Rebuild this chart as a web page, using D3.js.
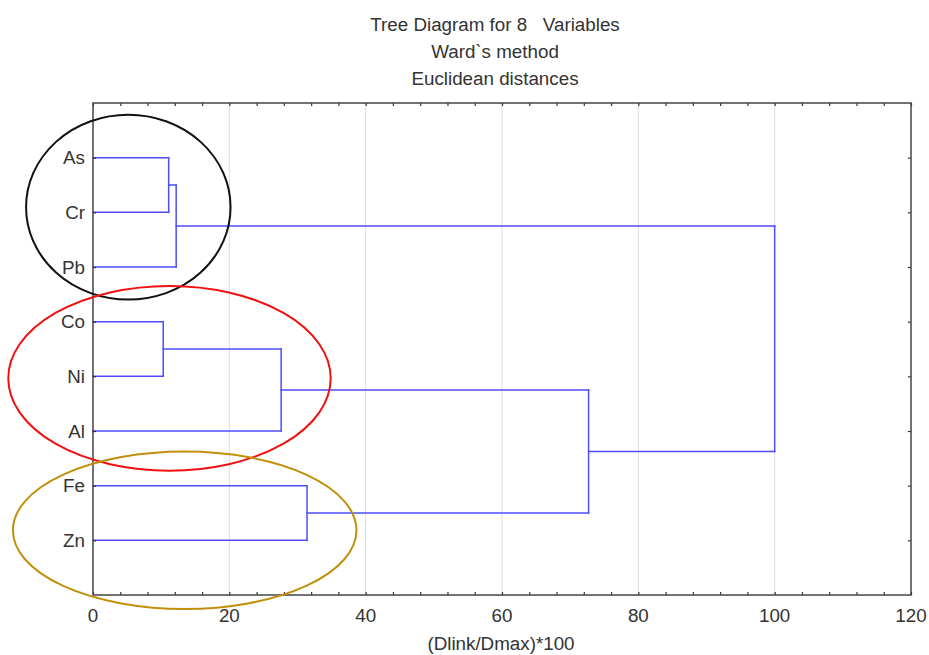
<!DOCTYPE html>
<html>
<head>
<meta charset="utf-8">
<script src="https://cdn.jsdelivr.net/npm/d3@7"></script>
<style>
  body { margin: 0; background: #fff; }
  text { font-family: "Liberation Sans", Arial, sans-serif; fill: #333; }
</style>
</head>
<body>
<svg id="chart" width="929" height="655"></svg>
<script>
// leaves, top to bottom
var leaves = ['As', 'Cr', 'Pb', 'Co', 'Ni', 'Al', 'Fe', 'Zn']
// linkage: [childA, childB, (Dlink/Dmax)*100]; new cluster ids start at 8
var mergeA = [0, 8, 3, 10, 6, 11, 9]
var mergeB = [1, 2, 4, 5, 7, 12, 13]
var mergeH = [11.1, 12.2, 10.3, 27.6, 31.4, 72.7, 100]
var xTicks = [0, 20, 40, 60, 80, 100, 120]
var titleLines = ['Tree Diagram for 8   Variables', 'Ward`s method', 'Euclidean distances']
// circled groups (data units: x value, row position)
var ringCx = [5.18, 11.22, 13.45]
var ringCy = [1.906, 5.036, 7.816]
var ringRx = [15.0, 23.65, 25.2]
var ringRy = [1.69, 1.69, 1.44]
var ringColor = ['#111111', '#f01010', '#c0900c']

var svg = d3.select('#chart')
var pLeft = 93, pRight = 911, pTop = 103, pBottom = 595
var lineColor = '#4d4dff'
var fontSize = '18.8px'

var xScale = d3.scaleLinear().domain([0, 120]).range([pLeft, pRight])
var yScale = d3.scaleLinear().domain([0, leaves.length + 1]).range([pTop, pBottom])

// gridlines
svg.append('g').selectAll('line')
	.data(xTicks.filter(d => d > 0 && d < 120))
	.enter().append('line')
	.attr('x1', d => xScale(d)).attr('x2', d => xScale(d))
	.attr('y1', pTop).attr('y2', pBottom)
	.style('stroke', '#dcdcdc').style('stroke-width', 1)

// node positions
var nodeX = leaves.map(() => 0)
var nodeY = leaves.map((d, i) => i + 1)
var segs = []
for (var i = 0; i < mergeH.length; i++) {
	var a = mergeA[i], b = mergeB[i], h = mergeH[i]
	segs.push([nodeX[a], nodeY[a], h, nodeY[a]])
	segs.push([nodeX[b], nodeY[b], h, nodeY[b]])
	segs.push([h, nodeY[a], h, nodeY[b]])
	nodeX.push(h)
	nodeY.push((nodeY[a] + nodeY[b]) / 2)
}

svg.append('g').attr('class', 'tree').selectAll('line')
	.data(segs)
	.enter().append('line')
	.attr('x1', d => xScale(d[0])).attr('y1', d => yScale(d[1]))
	.attr('x2', d => xScale(d[2])).attr('y2', d => yScale(d[3]))
	.style('stroke', lineColor).style('stroke-width', 1.5)
	.style('stroke-linecap', 'square')

// axes (inward ticks)
var minor = d3.range(0, 121, 4)
svg.append('g').attr('transform', 'translate(0,' + pBottom + ')')
	.call(d3.axisBottom(xScale).tickValues(minor).tickSizeInner(-3).tickSizeOuter(0).tickFormat(''))
svg.append('g').attr('transform', 'translate(0,' + pTop + ')')
	.call(d3.axisTop(xScale).tickValues(minor).tickSizeInner(-3).tickSizeOuter(0).tickFormat(''))
var rows = leaves.map((d, i) => i + 1)
svg.append('g').attr('transform', 'translate(' + pRight + ',0)')
	.call(d3.axisRight(yScale).tickValues(rows).tickSizeInner(-3).tickSizeOuter(0).tickFormat(''))
svg.append('g').attr('transform', 'translate(' + pLeft + ',0)')
	.call(d3.axisLeft(yScale).tickValues(rows).tickSizeInner(-3).tickSizeOuter(0).tickFormat(''))
svg.selectAll('.domain').remove()
svg.selectAll('.tick line').style('stroke', '#333').style('stroke-width', 1.2)

// frame
svg.append('rect')
	.attr('x', pLeft).attr('y', pTop)
	.attr('width', pRight - pLeft).attr('height', pBottom - pTop)
	.style('fill', 'none').style('stroke', '#444').style('stroke-width', 1.5)

// tick labels
svg.append('g').selectAll('text')
	.data(xTicks)
	.enter().append('text')
	.attr('x', d => xScale(d)).attr('y', pBottom + 27)
	.attr('text-anchor', 'middle').attr('font-size', fontSize)
	.text(d => d)
svg.append('g').selectAll('text')
	.data(leaves)
	.enter().append('text')
	.attr('x', pLeft - 8).attr('y', (d, i) => yScale(i + 1) + 6.5)
	.attr('text-anchor', 'end').attr('font-size', fontSize)
	.text(d => d)

// titles
svg.append('g').selectAll('text')
	.data(titleLines)
	.enter().append('text')
	.attr('x', 495).attr('y', (d, i) => 31 + i * 27)
	.attr('text-anchor', 'middle').attr('font-size', fontSize)
	.style('white-space', 'pre').attr('xml:space', 'preserve')
	.text(d => d)
svg.append('text')
	.attr('x', 501).attr('y', 650)
	.attr('text-anchor', 'middle').attr('font-size', fontSize)
	.text('(Dlink/Dmax)*100')

// group ellipses
svg.append('g').selectAll('ellipse')
	.data(ringCx)
	.enter().append('ellipse')
	.attr('cx', d => xScale(d))
	.attr('cy', (d, i) => yScale(ringCy[i]))
	.attr('rx', (d, i) => xScale(ringRx[i]) - xScale(0))
	.attr('ry', (d, i) => yScale(ringRy[i]) - yScale(0))
	.style('fill', 'none')
	.style('stroke', (d, i) => ringColor[i])
	.style('stroke-width', 2)
</script>
</body>
</html>
